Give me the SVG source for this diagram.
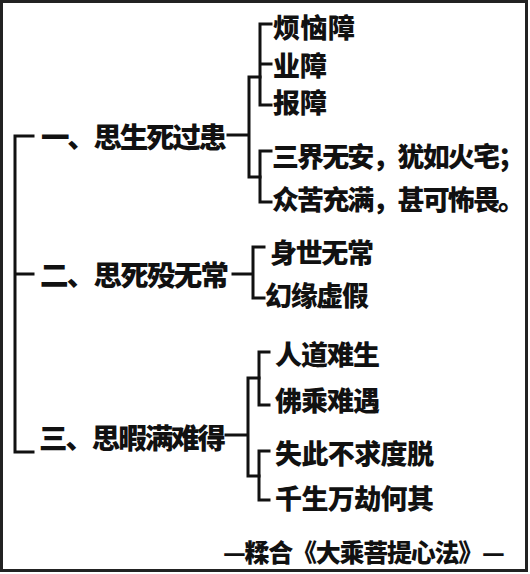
<svg xmlns="http://www.w3.org/2000/svg" width="530" height="574" viewBox="0 0 530 574">
<style>
.t{font-family:"Noto Sans CJK SC","Noto Sans CJK TC",sans-serif;font-weight:900;fill:#111;}
.m{font-size:28.5px;}
.s{font-size:27px;}
.f{font-size:25px;}
.c{fill:none;stroke:#111;stroke-width:3;stroke-linecap:square;stroke-linejoin:miter;}
</style>
<rect x="0" y="0" width="530" height="574" fill="#fff"/>
<rect x="1.5" y="1.5" width="525" height="569" fill="none" stroke="#222" stroke-width="3"/>
<g id="connectors" class="c">
<path d="M33,136 H15 V452 H33 M15,274 H33"/>
<path d="M228,135 H249 M260,77 H249 V177 H260"/>
<path d="M271,24 H260 V105 H271 M260,64 H271"/>
<path d="M271,151 H260 V202 H271"/>
<path d="M233,274 H253 M264,247 H253 V298 H264"/>
<path d="M226,435 H248 M259,378 H248 V476 H259"/>
<path d="M269,352 H259 V405 H269"/>
<path d="M269,451 H259 V500 H269"/>
</g>
<g id="n1"><text class="t m" x="41" y="148" textLength="186">一、思生死过患</text></g>
<g id="n1a"><text class="t s" x="273" y="38" textLength="82">烦恼障</text></g>
<g id="n1b"><text class="t s" x="273" y="76">业障</text></g>
<g id="n1c"><text class="t s" x="273" y="113">报障</text></g>
<g id="n1d"><text class="t s" x="272" y="167" textLength="253">三界无安，犹如火宅；</text></g>
<g id="n1e"><text class="t s" x="272" y="210" textLength="253">众苦充满，甚可怖畏。</text></g>
<g id="n2"><text class="t m" x="40" y="286" textLength="189">二、思死殁无常</text></g>
<g id="n2a"><text class="t s" x="270" y="263" textLength="104">身世无常</text></g>
<g id="n2b"><text class="t s" x="265" y="306" textLength="104">幻缘虚假</text></g>
<g id="n3"><text class="t m" x="39" y="449" textLength="187">三、思暇满难得</text></g>
<g id="n3a"><text class="t s" x="275" y="365" textLength="105">人道难生</text></g>
<g id="n3b"><text class="t s" x="275" y="411" textLength="105">佛乘难遇</text></g>
<g id="n3c"><text class="t s" x="275" y="464" textLength="159">失此不求度脱</text></g>
<g id="n3d"><text class="t s" x="275" y="509" textLength="159">千生万劫何其</text></g>
<g id="src"><text class="t f" x="223" y="562" textLength="282">—糅合《大乘菩提心法》—</text></g>
</svg>
